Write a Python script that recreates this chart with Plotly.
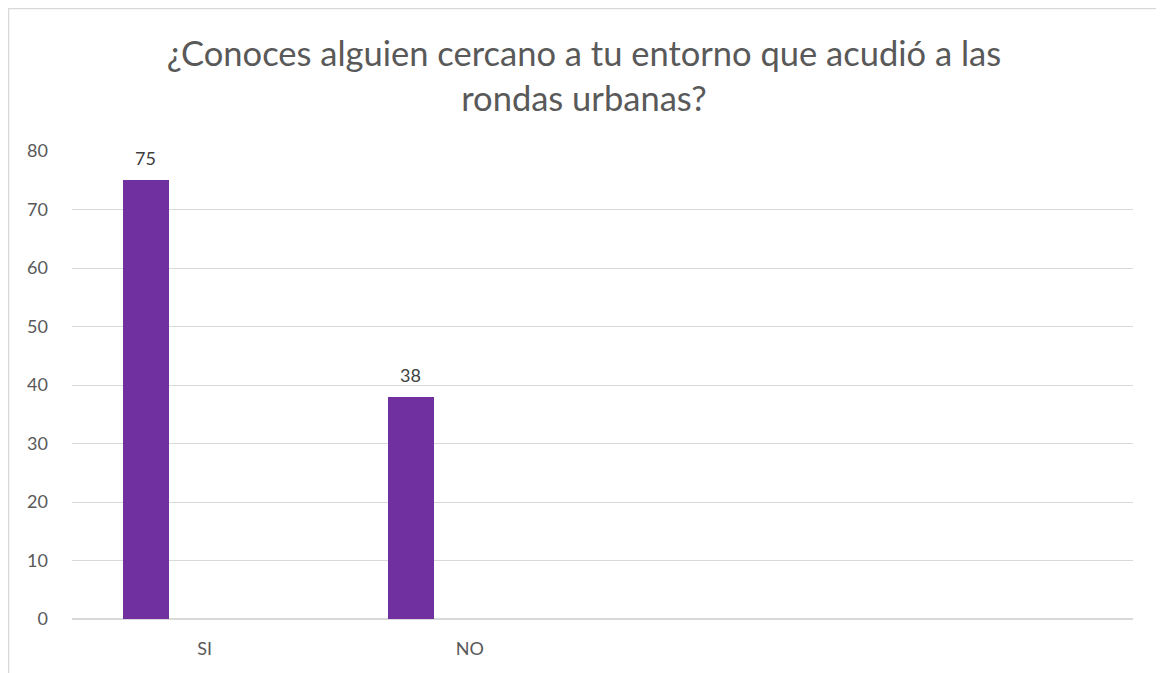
import plotly.graph_objects as go

categories = ["SI", "NO"]
values = [75, 38]
y_ticks = [0, 10, 20, 30, 40, 50, 60, 70, 80]
title_text = "¿Conoces alguien cercano a tu entorno que acudió a las<br>rondas urbanas?"

# page has an 8px body margin, so figure coords = screen coords - 8
L, R, T, B = 64, 39, 143, 62
W, H = 1164, 673
pw, ph = W - L - R, H - T - B

x_pos = list(range(len(categories)))
bar_w, bar_off = 0.1736, -0.3094

fig = go.Figure()
fig.add_trace(go.Bar(
    x=x_pos, y=values,
    width=bar_w, offset=bar_off,
    marker=dict(color="#7030a0", line=dict(width=0)),
))

for xv, v in zip(x_pos, values):
    fig.add_annotation(x=xv + bar_off + bar_w / 2, y=v, text=str(v), showarrow=False,
                       yanchor="middle", yshift=22,
                       font=dict(family="Lato, Carlito, sans-serif", size=18, color="#404040"))

def px_x(p):
    return (p - L) / pw

def px_y(p):
    return (H - B - p) / ph

fig.add_shape(type="rect", xref="paper", yref="paper",
              x0=px_x(0.5), x1=px_x(1152), y0=px_y(700), y1=px_y(0.5),
              line=dict(color="#d9d9d9", width=1.5), fillcolor="rgba(0,0,0,0)", layer="below")

fig.update_layout(
    width=W, height=H,
    margin=dict(l=L, r=R, t=T, b=B),
    paper_bgcolor="white", plot_bgcolor="white",
    showlegend=False,
    title=dict(text=title_text, x=(584 - 8) / W, xref="container", xanchor="center",
               y=1 - 58 / H, yref="container", yanchor="top",
               font=dict(family="Lato, Carlito, sans-serif", size=34.5, color="#595959")),
    font=dict(family="Lato, Carlito, sans-serif", size=18, color="#595959"),
    xaxis=dict(range=[-0.5, 3.5], tickvals=x_pos, ticktext=categories,
               showgrid=False, zeroline=False, showline=False, ticks="",
               tickfont=dict(size=18, color="#595959")),
    yaxis=dict(range=[0, 80], tickvals=y_ticks, showgrid=True, gridcolor="#d9d9d9",
               gridwidth=1, zeroline=True, zerolinecolor="#d9d9d9", zerolinewidth=1.5,
               showline=False, ticks="", ticklen=0,
               tickfont=dict(size=18, color="#595959")),
    bargap=0,
)
fig.update_xaxes(ticklabelstandoff=17)
fig.update_yaxes(ticklabelstandoff=23)

fig.write_html("out.html")
